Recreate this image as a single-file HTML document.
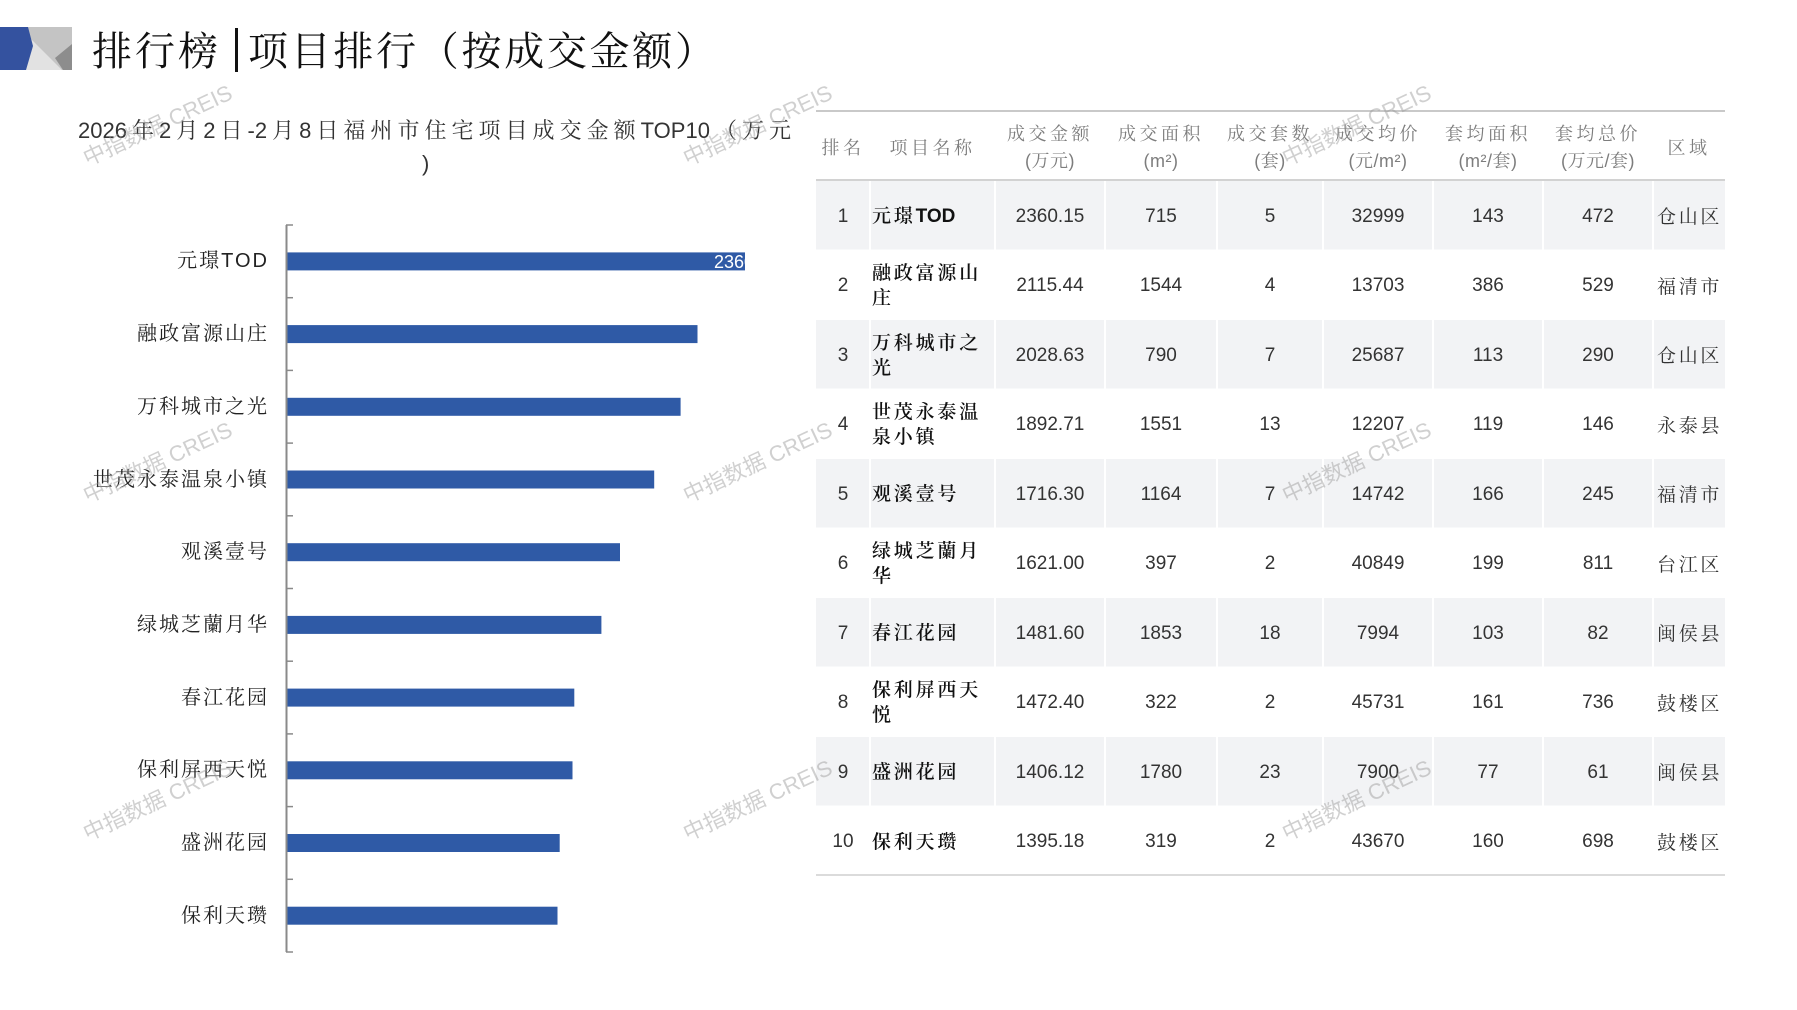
<!DOCTYPE html>
<html><head><meta charset="utf-8">
<style>
*{margin:0;padding:0;box-sizing:border-box}
body{width:1797px;height:1010px;overflow:hidden;background:#fff;position:relative;font-family:"Liberation Sans","Noto Serif CJK SC",serif}
.abs{position:absolute}
.title{font-family:"Liberation Serif","Noto Serif CJK SC",serif;font-size:40px;line-height:40px;color:#111;top:32px;white-space:nowrap}
.sub{left:78px;width:713px;top:116px;font-size:22px;line-height:30px;color:#333;text-align:justify;text-align-last:justify;font-family:"Liberation Sans","Noto Serif CJK SC",serif}
.lab{right:1528px;font-family:"Liberation Sans","Noto Serif CJK SC",serif;font-size:20px;letter-spacing:2px;line-height:24px;color:#222;white-space:nowrap;text-align:right}
.row{position:absolute;left:816px;width:909px;height:69.5px;display:flex;align-items:center}
.c{height:100%;display:flex;align-items:center;justify-content:center;font-size:19px;color:#333;padding-top:4px}
.w0{width:54px}.w1{width:125px;justify-content:flex-start;padding-left:2px}.w2{width:110px}.w3{width:112px}.w4{width:106px}.w5{width:110px}.w6{width:110px}.w7{width:110px}.w8{width:72px;justify-content:flex-start;padding-left:4px;padding-top:2px}
.nm{width:115px;font-family:"Liberation Sans","Noto Serif CJK SC",serif;font-weight:600;color:#111;letter-spacing:2.8px;line-height:25px;font-size:19px}
.nm span{letter-spacing:0}
.rg{font-family:"Liberation Serif","Noto Serif CJK SC",serif;letter-spacing:2.7px;color:#333;white-space:nowrap}
.hd{position:absolute;top:111px;height:69px;display:flex;align-items:center;justify-content:center;text-align:center;font-size:18px;line-height:26.7px;color:#7d7d7d;letter-spacing:3.5px;padding-top:5px;font-family:"Liberation Sans","Noto Serif CJK SC",serif;white-space:nowrap}
.hd span{letter-spacing:0.5px}
.wm{position:absolute;font-family:"Liberation Sans","Noto Sans CJK SC",sans-serif;font-size:22px;color:rgba(150,150,150,0.45);white-space:nowrap;transform:translate(-50%,-50%) rotate(-25deg)}
</style></head><body>

<svg class="abs" style="left:0;top:0" width="1797" height="1010">
  <rect x="13" y="27" width="59" height="43" fill="#c4c4c4"/>
  <polygon points="30,38 62,70 20,70" fill="#e2e2e2"/>
  <polygon points="72,44 55,58 63,70 72,70" fill="#8d8d8d"/>
  <polygon points="0,27 28,27 33,46 26,70 0,70" fill="#34529f"/>
  <rect x="235" y="28" width="3" height="44" fill="#111"/>

  <g fill="#f2f3f5">
    <rect x="816" y="181" width="909" height="68.5"/>
    <rect x="816" y="320" width="909" height="68.5"/>
    <rect x="816" y="459" width="909" height="68.5"/>
    <rect x="816" y="598" width="909" height="68.5"/>
    <rect x="816" y="737" width="909" height="68.5"/>
  </g>
  <g stroke="#ffffff" stroke-width="2">
    <line x1="870" y1="180" x2="870" y2="875"/>
    <line x1="995" y1="180" x2="995" y2="875"/>
    <line x1="1105" y1="180" x2="1105" y2="875"/>
    <line x1="1217" y1="180" x2="1217" y2="875"/>
    <line x1="1323" y1="180" x2="1323" y2="875"/>
    <line x1="1433" y1="180" x2="1433" y2="875"/>
    <line x1="1543" y1="180" x2="1543" y2="875"/>
    <line x1="1653" y1="180" x2="1653" y2="875"/>
  </g>
  <line x1="816" y1="111" x2="1725" y2="111" stroke="#c9c9c9" stroke-width="2"/>
  <line x1="816" y1="180" x2="1725" y2="180" stroke="#c4c4c4" stroke-width="1.5"/>
  <line x1="816" y1="875" x2="1725" y2="875" stroke="#cfcfcf" stroke-width="1.5"/>

  <g fill="#2f5aa6">
    <rect x="287" y="252.4" width="458" height="18"/>
    <rect x="287" y="325.1" width="410.5" height="18"/>
    <rect x="287" y="397.8" width="393.6" height="18"/>
    <rect x="287" y="470.5" width="367.2" height="18"/>
    <rect x="287" y="543.2" width="333" height="18"/>
    <rect x="287" y="615.9" width="314.4" height="18"/>
    <rect x="287" y="688.6" width="287.3" height="18"/>
    <rect x="287" y="761.3" width="285.5" height="18"/>
    <rect x="287" y="834" width="272.7" height="18"/>
    <rect x="287" y="906.7" width="270.5" height="18"/>
  </g>
  <line x1="286.5" y1="225" x2="286.5" y2="952" stroke="#8a8a8a" stroke-width="2"/>
  <g stroke="#8a8a8a" stroke-width="1.5">
    <line x1="286" y1="225" x2="293" y2="225"/>
    <line x1="286" y1="297.7" x2="293" y2="297.7"/>
    <line x1="286" y1="370.4" x2="293" y2="370.4"/>
    <line x1="286" y1="443.1" x2="293" y2="443.1"/>
    <line x1="286" y1="515.8" x2="293" y2="515.8"/>
    <line x1="286" y1="588.5" x2="293" y2="588.5"/>
    <line x1="286" y1="661.2" x2="293" y2="661.2"/>
    <line x1="286" y1="733.9" x2="293" y2="733.9"/>
    <line x1="286" y1="806.6" x2="293" y2="806.6"/>
    <line x1="286" y1="879.3" x2="293" y2="879.3"/>
    <line x1="286" y1="952" x2="293" y2="952"/>
  </g>
</svg>

<div class="abs title" style="left:92px;letter-spacing:3px">排行榜</div>
<div class="abs title" style="left:248px;letter-spacing:2.7px">项目排行（按成交金额）</div>

<div class="abs sub">2026年2月2日-2月8日福州市住宅项目成交金额TOP10（万元</div>
<div class="abs" style="left:422px;top:149px;font-size:22px;line-height:30px;color:#333">)</div>

<div class="abs" style="left:287px;top:250px;width:458px;height:24px;overflow:hidden">
  <div class="abs" style="left:427px;top:0;font-size:18px;line-height:24px;color:#fff;white-space:nowrap">2360.15</div>
</div>

<div class="abs lab" style="top:249.4px">元璟TOD</div>
<div class="abs lab" style="top:322.1px">融政富源山庄</div>
<div class="abs lab" style="top:394.8px">万科城市之光</div>
<div class="abs lab" style="top:467.5px">世茂永泰温泉小镇</div>
<div class="abs lab" style="top:540.2px">观溪壹号</div>
<div class="abs lab" style="top:612.9px">绿城芝蘭月华</div>
<div class="abs lab" style="top:685.6px">春江花园</div>
<div class="abs lab" style="top:758.3px">保利屏西天悦</div>
<div class="abs lab" style="top:831px">盛洲花园</div>
<div class="abs lab" style="top:903.7px">保利天瓒</div>

<div class="hd" style="left:816px;width:54px"><div>排名</div></div>
<div class="hd" style="left:870px;width:125px"><div>项目名称</div></div>
<div class="hd" style="left:995px;width:110px"><div>成交金额<br><span>(万元)</span></div></div>
<div class="hd" style="left:1105px;width:112px"><div>成交面积<br><span>(m²)</span></div></div>
<div class="hd" style="left:1217px;width:106px"><div>成交套数<br><span>(套)</span></div></div>
<div class="hd" style="left:1323px;width:110px"><div>成交均价<br><span>(元/m²)</span></div></div>
<div class="hd" style="left:1433px;width:110px"><div>套均面积<br><span>(m²/套)</span></div></div>
<div class="hd" style="left:1543px;width:110px"><div>套均总价<br><span>(万元/套)</span></div></div>
<div class="hd" style="left:1653px;width:72px"><div>区域</div></div>

<div class="row" style="top:180px"><div class="c w0">1</div><div class="c w1"><div class="nm">元璟<span>TOD</span></div></div><div class="c w2">2360.15</div><div class="c w3">715</div><div class="c w4">5</div><div class="c w5">32999</div><div class="c w6">143</div><div class="c w7">472</div><div class="c w8"><span class="rg">仓山区</span></div></div>
<div class="row" style="top:249.5px"><div class="c w0">2</div><div class="c w1"><div class="nm">融政富源山庄</div></div><div class="c w2">2115.44</div><div class="c w3">1544</div><div class="c w4">4</div><div class="c w5">13703</div><div class="c w6">386</div><div class="c w7">529</div><div class="c w8"><span class="rg">福清市</span></div></div>
<div class="row" style="top:319px"><div class="c w0">3</div><div class="c w1"><div class="nm">万科城市之光</div></div><div class="c w2">2028.63</div><div class="c w3">790</div><div class="c w4">7</div><div class="c w5">25687</div><div class="c w6">113</div><div class="c w7">290</div><div class="c w8"><span class="rg">仓山区</span></div></div>
<div class="row" style="top:388.5px"><div class="c w0">4</div><div class="c w1"><div class="nm">世茂永泰温泉小镇</div></div><div class="c w2">1892.71</div><div class="c w3">1551</div><div class="c w4">13</div><div class="c w5">12207</div><div class="c w6">119</div><div class="c w7">146</div><div class="c w8"><span class="rg">永泰县</span></div></div>
<div class="row" style="top:458px"><div class="c w0">5</div><div class="c w1"><div class="nm">观溪壹号</div></div><div class="c w2">1716.30</div><div class="c w3">1164</div><div class="c w4">7</div><div class="c w5">14742</div><div class="c w6">166</div><div class="c w7">245</div><div class="c w8"><span class="rg">福清市</span></div></div>
<div class="row" style="top:527.5px"><div class="c w0">6</div><div class="c w1"><div class="nm">绿城芝蘭月华</div></div><div class="c w2">1621.00</div><div class="c w3">397</div><div class="c w4">2</div><div class="c w5">40849</div><div class="c w6">199</div><div class="c w7">811</div><div class="c w8"><span class="rg">台江区</span></div></div>
<div class="row" style="top:597px"><div class="c w0">7</div><div class="c w1"><div class="nm">春江花园</div></div><div class="c w2">1481.60</div><div class="c w3">1853</div><div class="c w4">18</div><div class="c w5">7994</div><div class="c w6">103</div><div class="c w7">82</div><div class="c w8"><span class="rg">闽侯县</span></div></div>
<div class="row" style="top:666.5px"><div class="c w0">8</div><div class="c w1"><div class="nm">保利屏西天悦</div></div><div class="c w2">1472.40</div><div class="c w3">322</div><div class="c w4">2</div><div class="c w5">45731</div><div class="c w6">161</div><div class="c w7">736</div><div class="c w8"><span class="rg">鼓楼区</span></div></div>
<div class="row" style="top:736px"><div class="c w0">9</div><div class="c w1"><div class="nm">盛洲花园</div></div><div class="c w2">1406.12</div><div class="c w3">1780</div><div class="c w4">23</div><div class="c w5">7900</div><div class="c w6">77</div><div class="c w7">61</div><div class="c w8"><span class="rg">闽侯县</span></div></div>
<div class="row" style="top:805.5px"><div class="c w0">10</div><div class="c w1"><div class="nm">保利天瓒</div></div><div class="c w2">1395.18</div><div class="c w3">319</div><div class="c w4">2</div><div class="c w5">43670</div><div class="c w6">160</div><div class="c w7">698</div><div class="c w8"><span class="rg">鼓楼区</span></div></div>

<div class="wm" style="left:157px;top:124px">中指数据 CREIS</div>
<div class="wm" style="left:757px;top:124px">中指数据 CREIS</div>
<div class="wm" style="left:1356px;top:124px">中指数据 CREIS</div>
<div class="wm" style="left:157px;top:461px">中指数据 CREIS</div>
<div class="wm" style="left:757px;top:461px">中指数据 CREIS</div>
<div class="wm" style="left:1356px;top:461px">中指数据 CREIS</div>
<div class="wm" style="left:157px;top:799px">中指数据 CREIS</div>
<div class="wm" style="left:757px;top:799px">中指数据 CREIS</div>
<div class="wm" style="left:1356px;top:799px">中指数据 CREIS</div>

</body></html>
